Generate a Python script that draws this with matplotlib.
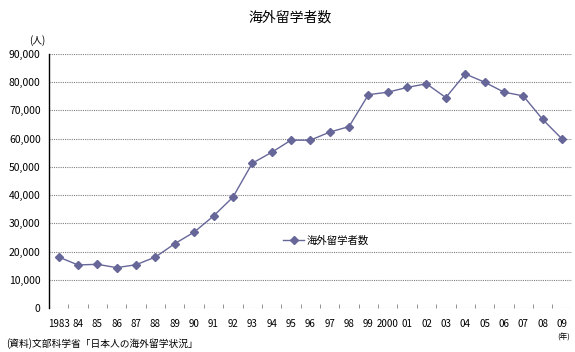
import matplotlib
matplotlib.use("Agg")
import matplotlib.pyplot as plt
from matplotlib.ticker import FuncFormatter

plt.rcParams['font.family'] = ['Noto Sans CJK JP', 'DejaVu Sans']

# 海外留学者数（人）
years = ['1983', '84', '85', '86', '87', '88', '89', '90', '91', '92', '93', '94', '95',
         '96', '97', '98', '99', '2000', '01', '02', '03', '04', '05', '06', '07', '08', '09']
students = [18066, 15246, 15485, 14297, 15335, 18066, 22798, 26893, 32609, 39258,
            51295, 55145, 59460, 59468, 62324, 64284, 75586, 76464, 78151, 79455,
            74551, 82945, 80023, 76492, 75156, 66833, 59923]

col = '#666699'

fig = plt.figure(figsize=(5.75, 3.52), dpi=100)
ax = fig.add_axes([0.0852, 0.125, 0.909, 0.7216])

x = list(range(len(years)))
ax.plot(x, students, color=col, lw=1, marker='D', ms=4.5, mfc=col, mec=col,
        label='海外留学者数', zorder=3)

ax.set_xlim(-0.5, len(years) - 0.5)
ax.set_ylim(0, 90000)
ax.set_yticks(range(0, 90001, 10000))
ax.yaxis.set_major_formatter(FuncFormatter(lambda v, p: f'{int(v):,}'))
ax.grid(axis='y', color='#808080', ls=(0, (1, 1)), lw=0.8)
ax.set_axisbelow(True)

ax.set_xticks(x)
ax.set_xticklabels(years)
ax.set_xticks([i + 0.5 for i in x[:-1]], minor=True)
ax.tick_params(axis='x', which='major', length=0, labelsize=7, pad=8)
ax.tick_params(axis='x', which='minor', length=3, direction='in', color='#808080')
ax.tick_params(axis='y', length=0, labelsize=7.5, pad=6)

for s in ['top', 'right', 'bottom']:
    ax.spines[s].set_visible(False)
ax.spines['left'].set_color('black')
ax.spines['left'].set_linewidth(1)

ax.legend(loc='upper left', bbox_to_anchor=(0.43, 0.322), frameon=False,
          fontsize=7.5, handlelength=2.0, handletextpad=0.3)

fig.text(0.505, 0.95, '海外留学者数', ha='center', va='center', fontsize=10)
fig.text(0.065, 0.885, '(人)', ha='center', va='center', fontsize=7)
fig.text(0.98, 0.04, '(年)', ha='center', va='center', fontsize=5.5)
fig.text(0.01, 0.025, '(資料)文部科学省「日本人の海外留学状況」', ha='left', va='center', fontsize=7)

fig.savefig('out.png', dpi=100)
